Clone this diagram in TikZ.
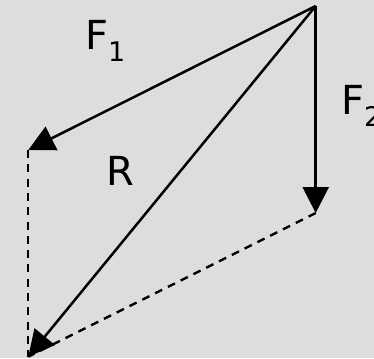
\documentclass[tikz,border=0pt]{standalone}
\usepackage{fontspec}
\setmainfont{DejaVu Sans}
\usetikzlibrary{arrows.meta}
\definecolor{bggray}{RGB}{221,221,221}
\tikzset{
  force/.style={-{Triangle[length=26pt,width=26pt]}, line width=2.5pt},
  helper/.style={line width=2.3pt, dash pattern=on 8pt off 6.3pt},
  lbl/.style={anchor=base west, inner sep=0pt, font=\fontsize{40}{48}\selectfont}}
\newcommand{\lowsub}[1]{\raisebox{-12pt}{\fontsize{27}{32}\selectfont #1}}

\begin{document}
\begin{tikzpicture}[x=1pt,y=-1pt]
  \fill[bggray] (0,0) rectangle (374,358);
  \useasboundingbox (0,0) rectangle (374,358);
  % common origin and the three tips
  \coordinate (O) at (315.7,6);
  \coordinate (A) at (28.3,150);
  \coordinate (B) at (315.7,213);
  \coordinate (C) at (28.3,356.7);
  \draw[helper] (A) -- (C);
  \draw[helper] (B) -- (C);
  \draw[force] (O) -- (A);
  \draw[force] (O) -- (B);
  \draw[force] (O) -- (C);
  \node[lbl] (f1) at (85,50) {F\lowsub{1}};
  \node[lbl] (f2) at (341,115) {F\lowsub{2}};
  \node[lbl] (r) at (106,185) {R};
\end{tikzpicture}
\end{document}
